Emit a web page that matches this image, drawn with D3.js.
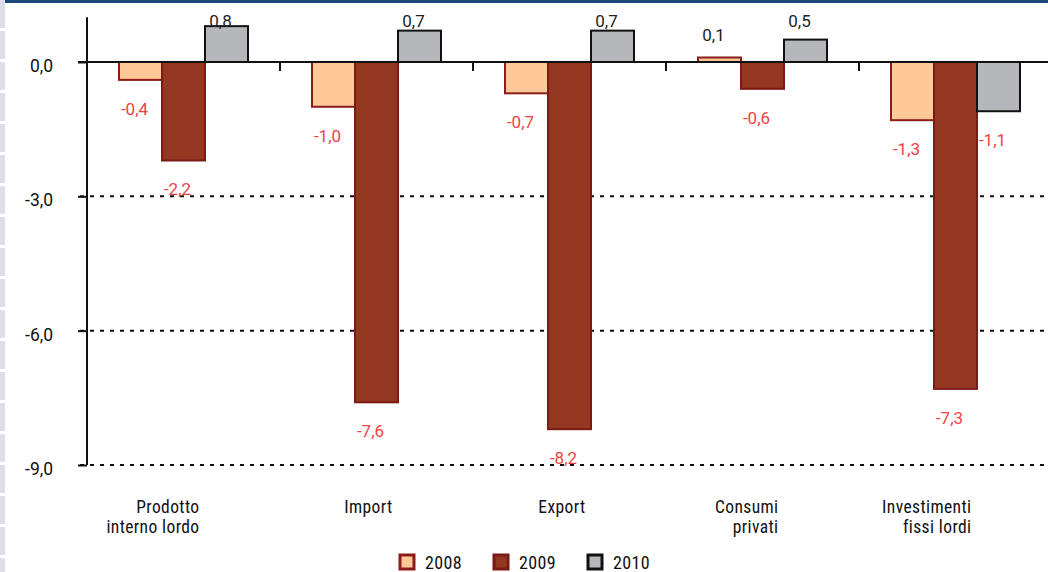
<!DOCTYPE html>
<html>
<head>
<meta charset="utf-8">
<script src="https://cdn.jsdelivr.net/npm/d3@7"></script>
<style>
  html, body { margin: 0; padding: 0; background: #fff; }
  svg { display: block; font-family: Roboto, "Liberation Sans", sans-serif; }
  .cat { font-family: "Liberation Sans Narrow", "Roboto Condensed", "DejaVu Sans Condensed", sans-serif; font-size: 17.5px; letter-spacing: 0.4px; fill: #111; }
</style>
</head>
<body>
<div id="chart"></div>
<script>
  // data
  const categories = [
    ['Prodotto', 'interno lordo'],
    ['Import'],
    ['Export'],
    ['Consumi', 'privati'],
    ['Investimenti', 'fissi lordi']
  ];
  const years = ['2008', '2009', '2010'];
  const values2008 = [-0.4, -1.0, -0.7, 0.1, -1.3];
  const values2009 = [-2.2, -7.6, -8.2, -0.6, -7.3];
  const values2010 = [0.8, 0.7, 0.7, 0.5, -1.1];
  const yTicks = [0, -3, -6, -9];

  const width = 1048;
  const height = 572;
  const fills = ['#fec897', '#933720', '#b6b7bb'];
  const strokes = ['#8c1c18', '#7c1a16', '#111'];

  let svg = d3.select('#chart')
    .append('svg')
    .attr('width', width)
    .attr('height', height);

  // page frame: blue top rule, dashed strip on the left
  svg.append('rect')
    .attr('x', 0).attr('y', 0)
    .attr('width', width).attr('height', 3)
    .attr('fill', '#1b4a7a');
  svg.append('line')
    .attr('x1', 2.5).attr('x2', 2.5)
    .attr('y1', 0).attr('y2', height)
    .attr('stroke', '#dcdfeb')
    .attr('stroke-width', 5)
    .attr('stroke-dasharray', '28,3');

  let x = d3.scaleBand()
    .domain(d3.range(categories.length))
    .range([87, 1052]);
  // 3 bars take about two thirds of each band
  let xs = d3.scaleBand()
    .domain(years)
    .range([0, x.bandwidth()])
    .paddingInner(0)
    .paddingOuter((x.bandwidth() / 129 - 1) * 1.5);
  let y = d3.scaleLinear().domain([-9, 1]).range([465, 17.2]);

  const fmt = d => d3.format('.1f')(d).replace('.', ',').replace('−', '-');

  // dashed gridlines
  svg.selectAll('.grid')
    .data(yTicks.filter(d => d !== 0))
    .enter().append('line')
    .attr('class', 'grid')
    .attr('x1', 80).attr('x2', 1046)
    .attr('y1', d => y(d)).attr('y2', d => y(d))
    .attr('stroke', '#111')
    .attr('stroke-width', 2)
    .attr('stroke-dasharray', '4,6');

  // y axis
  let yAxis = d3.axisLeft(y)
    .tickValues(yTicks)
    .tickSize(9)
    .tickPadding(25)
    .tickFormat(fmt);
  let gy = svg.append('g')
    .attr('transform', 'translate(87,0)')
    .call(yAxis);
  gy.select('.domain').remove();
  gy.selectAll('.tick line').attr('stroke', '#111').attr('stroke-width', 2);
  gy.selectAll('.tick text')
    .attr('fill', '#111')
    .attr('font-size', 17.5)
    .attr('dy', '0.55em')
    .attr('font-family', 'Roboto, "Liberation Sans", sans-serif');
  svg.append('line')
    .attr('x1', 87).attr('x2', 87)
    .attr('y1', y(1)).attr('y2', y(-9))
    .attr('stroke', '#111').attr('stroke-width', 2);

  // bars
  let series = [values2008, values2009, values2010];
  let groups = svg.selectAll('.series')
    .data(series)
    .enter().append('g')
    .attr('class', 'series');
  groups.each(function(vals, si) {
    d3.select(this).selectAll('rect')
      .data(vals)
      .enter().append('rect')
      .attr('x', (d, i) => x(i) + xs(years[si]))
      .attr('y', d => y(Math.max(0, d)))
      .attr('width', xs.bandwidth())
      .attr('height', d => Math.abs(y(d) - y(0)))
      .attr('fill', fills[si])
      .attr('stroke', strokes[si])
      .attr('stroke-width', 2);
  });

  // zero line with small ticks between categories
  svg.append('line')
    .attr('x1', 78).attr('x2', width)
    .attr('y1', y(0)).attr('y2', y(0))
    .attr('stroke', '#111').attr('stroke-width', 2);
  svg.selectAll('.xtick')
    .data(d3.range(categories.length))
    .enter().append('line')
    .attr('class', 'xtick')
    .attr('x1', i => x(i)).attr('x2', i => x(i))
    .attr('y1', y(0)).attr('y2', y(0) + 9)
    .attr('stroke', '#111').attr('stroke-width', 2);

  // value labels
  groups.each(function(vals, si) {
    d3.select(this).selectAll('text')
      .data(vals)
      .enter().append('text')
      .attr('x', (d, i) => x(i) + xs(years[si]) + xs.bandwidth() / 2 - 6)
      .attr('y', d => d >= 0 ? Math.max(y(d) - 22, 21) : y(d) + 29)
      .attr('dy', '0.35em')
      .attr('text-anchor', 'middle')
      .attr('font-size', 17)
      .attr('fill', d => d >= 0 ? '#222' : '#f0423f')
      .text(fmt);
  });

  // category labels, one text per line
  categories.forEach((lines, i) => {
    svg.selectAll(null)
      .data(lines)
      .enter().append('text')
      .attr('class', 'cat')
      .attr('text-anchor', 'end')
      .attr('x', x(i) + x.bandwidth() / 2 + 16)
      .attr('y', (d, j) => 513 + j * 19.5)
      .text(d => d);
  });

  // legend
  let legend = svg.append('g')
    .attr('transform', 'translate(400,555)');
  let li = legend.selectAll('g')
    .data(years)
    .enter().append('g')
    .attr('transform', (d, i) => `translate(${i * 94},0)`);
  li.append('rect')
    .attr('width', 14).attr('height', 14)
    .attr('fill', (d, i) => fills[i])
    .attr('stroke', (d, i) => strokes[i])
    .attr('stroke-width', 3);
  li.append('text')
    .attr('class', 'cat')
    .attr('x', 25).attr('y', 14)
    .style('font-size', '18px')
    .text(d => d);
</script>
</body>
</html>
